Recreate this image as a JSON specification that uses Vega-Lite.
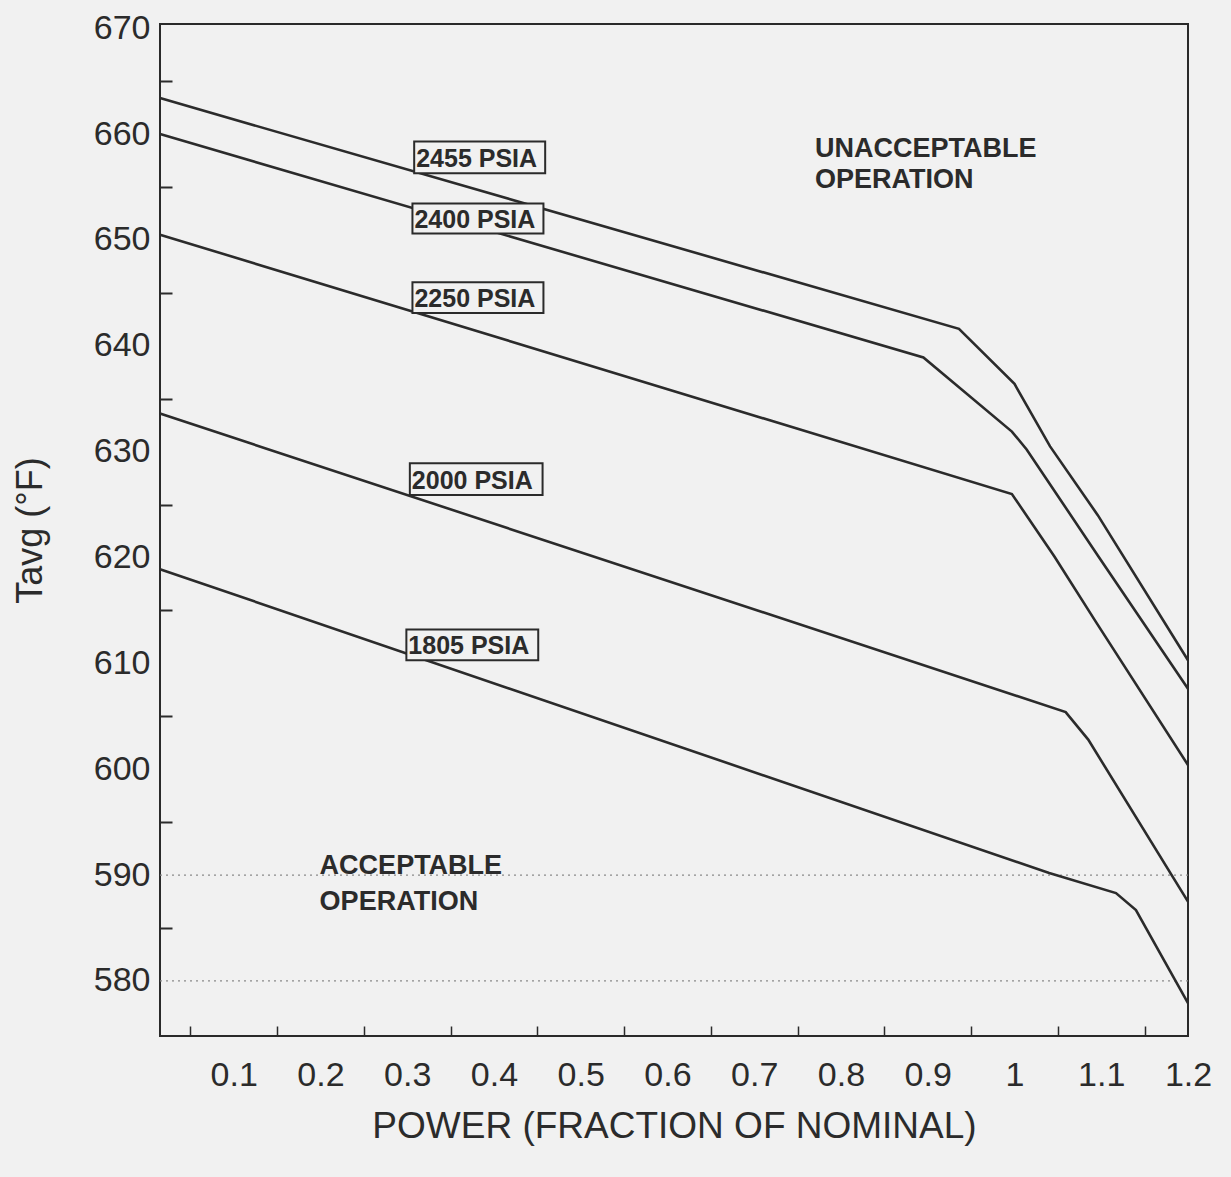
{
  "$schema": "https://vega.github.io/schema/vega-lite/v6.json",
  "width": 1028,
  "height": 1012,
  "autosize": {"type": "none"},
  "padding": {"left": 160, "top": 24, "right": 43, "bottom": 141},
  "background": "#f1f1f1",
  "config": {
    "view": {"stroke": "#2a2a2a", "strokeWidth": 2},
    "font": "Liberation Sans"
  },
  "datasets": {
    "curves": [
      {"series": "2455", "x": 0.015, "y": 663.4},
      {"series": "2455", "x": 0.936, "y": 641.6},
      {"series": "2455", "x": 1.0, "y": 636.4},
      {"series": "2455", "x": 1.041, "y": 630.5},
      {"series": "2455", "x": 1.096, "y": 624.0},
      {"series": "2455", "x": 1.2, "y": 610.3},
      {"series": "2400", "x": 0.015, "y": 660.0},
      {"series": "2400", "x": 0.895, "y": 638.9},
      {"series": "2400", "x": 0.997, "y": 631.9},
      {"series": "2400", "x": 1.014, "y": 630.2},
      {"series": "2400", "x": 1.096, "y": 620.2},
      {"series": "2400", "x": 1.2, "y": 607.6},
      {"series": "2250", "x": 0.015, "y": 650.5},
      {"series": "2250", "x": 0.997, "y": 626.0},
      {"series": "2250", "x": 1.046, "y": 620.1},
      {"series": "2250", "x": 1.094, "y": 613.9},
      {"series": "2250", "x": 1.2, "y": 600.4},
      {"series": "2000", "x": 0.015, "y": 633.6},
      {"series": "2000", "x": 1.059, "y": 605.4},
      {"series": "2000", "x": 1.085, "y": 602.8},
      {"series": "2000", "x": 1.2, "y": 587.5},
      {"series": "1805", "x": 0.015, "y": 618.9},
      {"series": "1805", "x": 1.04, "y": 590.2},
      {"series": "1805", "x": 1.117, "y": 588.3},
      {"series": "1805", "x": 1.14, "y": 586.7},
      {"series": "1805", "x": 1.2, "y": 577.9}
    ],
    "boxes": [
      {"label": "2455 PSIA", "x1": 0.308, "x2": 0.459, "y1": 656.3, "y2": 659.3},
      {"label": "2400 PSIA", "x1": 0.306, "x2": 0.457, "y1": 650.6, "y2": 653.45},
      {"label": "2250 PSIA", "x1": 0.306, "x2": 0.457, "y1": 643.1, "y2": 646.0},
      {"label": "2000 PSIA", "x1": 0.303, "x2": 0.456, "y1": 625.9, "y2": 628.9},
      {"label": "1805 PSIA", "x1": 0.299, "x2": 0.451, "y1": 610.3, "y2": 613.2}
    ],
    "notes": [
      {"t": "UNACCEPTABLE", "x": 0.77, "y": 658.6},
      {"t": "OPERATION", "x": 0.77, "y": 655.7},
      {"t": "ACCEPTABLE", "x": 0.199, "y": 590.9},
      {"t": "OPERATION", "x": 0.199, "y": 587.5}
    ],
    "grid": [{"g": 580}, {"g": 590}]
  },
  "layer": [
    {
      "data": {"name": "grid"},
      "mark": {"type": "rule", "color": "#8a8a8a", "strokeWidth": 1.3, "strokeDash": [2, 4]},
      "encoding": {
        "y": {"field": "g", "type": "quantitative", "scale": {"domain": [574.8, 670.4], "nice": false, "zero": false}, "axis": null}
      }
    },
    {
      "data": {"name": "curves"},
      "mark": {"type": "line", "color": "#2b2b2b", "strokeWidth": 2.6},
      "encoding": {
        "x": {
          "field": "x", "type": "quantitative",
          "scale": {"domain": [0.015, 1.2], "nice": false, "zero": false},
          "axis": {
            "orient": "bottom",
            "values": [0.1, 0.2, 0.3, 0.4, 0.5, 0.6, 0.7, 0.8, 0.9, 1, 1.1, 1.2],
            "format": "~g",
            "ticks": false, "tickSize": 0, "domain": false, "grid": false,
            "labelFontSize": 34, "labelPadding": 22, "labelColor": "#2b2b2b", "labelFlush": false,
            "title": "POWER (FRACTION OF NOMINAL)",
            "titleFontSize": 37, "titleFontWeight": "normal", "titleColor": "#2b2b2b", "titlePadding": 16
          }
        },
        "y": {
          "field": "y", "type": "quantitative",
          "scale": {"domain": [574.8, 670.4], "nice": false, "zero": false},
          "axis": {
            "orient": "left",
            "values": [580, 590, 600, 610, 620, 630, 640, 650, 660, 670],
            "format": "d",
            "ticks": false, "tickSize": 0, "domain": false, "grid": false,
            "labelFontSize": 34, "labelPadding": 10, "labelColor": "#2b2b2b", "labelFlush": false,
            "title": "Tavg (°F)",
            "titleFontSize": 36, "titleFontWeight": "normal", "titleColor": "#2b2b2b", "titlePadding": 44
          }
        },
        "detail": {"field": "series", "type": "nominal"}
      }
    },
    {
      "data": {"name": "boxes"},
      "mark": {"type": "rect", "fill": "#f1f1f1", "stroke": "#2b2b2b", "strokeWidth": 2},
      "encoding": {
        "x": {
          "field": "x1", "type": "quantitative",
          "scale": {"domain": [0.015, 1.2], "nice": false, "zero": false},
          "axis": {
            "orient": "bottom",
            "values": [0.05, 0.15, 0.25, 0.35, 0.45, 0.55, 0.65, 0.75, 0.85, 0.95, 1.05, 1.15],
            "labels": false, "domain": false, "grid": false, "ticks": true,
            "tickSize": -10, "tickColor": "#2b2b2b", "tickWidth": 1.5, "title": null
          }
        },
        "x2": {"field": "x2"},
        "y": {
          "field": "y1", "type": "quantitative",
          "scale": {"domain": [574.8, 670.4], "nice": false, "zero": false},
          "axis": {
            "orient": "left",
            "values": [585, 595, 605, 615, 625, 635, 645, 655, 665],
            "labels": false, "domain": false, "grid": false, "ticks": true,
            "tickSize": -12, "tickColor": "#2b2b2b", "tickWidth": 2, "title": null
          }
        },
        "y2": {"field": "y2"}
      }
    },
    {
      "data": {"name": "boxes"},
      "mark": {"type": "text", "align": "left", "baseline": "alphabetic", "dx": 2, "dy": -6, "fontSize": 25, "fontWeight": "bold", "color": "#2b2b2b"},
      "encoding": {
        "x": {"field": "x1", "type": "quantitative", "scale": {"domain": [0.015, 1.2], "nice": false, "zero": false}, "axis": null},
        "y": {"field": "y1", "type": "quantitative", "scale": {"domain": [574.8, 670.4], "nice": false, "zero": false}, "axis": null},
        "text": {"field": "label"}
      }
    },
    {
      "data": {"name": "notes"},
      "mark": {"type": "text", "align": "left", "baseline": "middle", "fontSize": 27, "fontWeight": "bold", "color": "#2b2b2b"},
      "encoding": {
        "x": {"field": "x", "type": "quantitative", "scale": {"domain": [0.015, 1.2], "nice": false, "zero": false}, "axis": null},
        "y": {"field": "y", "type": "quantitative", "scale": {"domain": [574.8, 670.4], "nice": false, "zero": false}, "axis": null},
        "text": {"field": "t"}
      }
    }
  ],
  "resolve": {"axis": {"x": "independent", "y": "independent"}}
}
